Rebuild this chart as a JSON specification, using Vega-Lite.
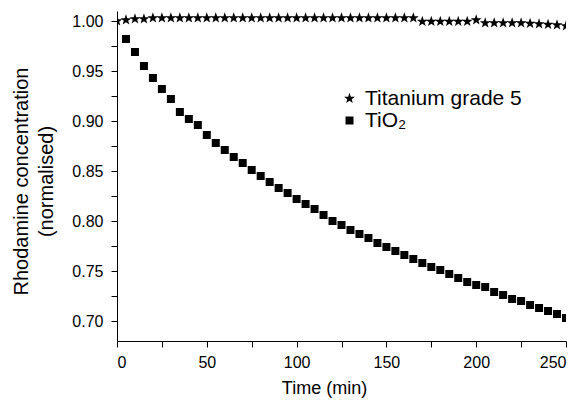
{
  "$schema": "https://vega.github.io/schema/vega-lite/v6.json",
  "width": 449,
  "height": 330,
  "autosize": {"type": "none"},
  "padding": {"left": 117, "top": 11, "right": 13, "bottom": 61},
  "background": "white",
  "config": {
    "view": {"stroke": null},
    "font": "Liberation Sans",
    "axis": {"grid": false, "domainColor": "black", "tickColor": "black", "labelColor": "black", "titleColor": "black", "labelFont": "Liberation Sans", "titleFont": "Liberation Sans", "titleFontWeight": "normal"}
  },
  "data": {
    "values": [
      {"series": "Titanium grade 5", "time": 0, "value": 1.000},
      {"series": "Titanium grade 5", "time": 5, "value": 1.001},
      {"series": "Titanium grade 5", "time": 10, "value": 1.002},
      {"series": "Titanium grade 5", "time": 15, "value": 1.002},
      {"series": "Titanium grade 5", "time": 20, "value": 1.003},
      {"series": "Titanium grade 5", "time": 25, "value": 1.003},
      {"series": "Titanium grade 5", "time": 30, "value": 1.003},
      {"series": "Titanium grade 5", "time": 35, "value": 1.003},
      {"series": "Titanium grade 5", "time": 40, "value": 1.003},
      {"series": "Titanium grade 5", "time": 45, "value": 1.003},
      {"series": "Titanium grade 5", "time": 50, "value": 1.003},
      {"series": "Titanium grade 5", "time": 55, "value": 1.003},
      {"series": "Titanium grade 5", "time": 60, "value": 1.003},
      {"series": "Titanium grade 5", "time": 65, "value": 1.003},
      {"series": "Titanium grade 5", "time": 70, "value": 1.003},
      {"series": "Titanium grade 5", "time": 75, "value": 1.003},
      {"series": "Titanium grade 5", "time": 80, "value": 1.003},
      {"series": "Titanium grade 5", "time": 85, "value": 1.003},
      {"series": "Titanium grade 5", "time": 90, "value": 1.003},
      {"series": "Titanium grade 5", "time": 95, "value": 1.003},
      {"series": "Titanium grade 5", "time": 100, "value": 1.003},
      {"series": "Titanium grade 5", "time": 105, "value": 1.003},
      {"series": "Titanium grade 5", "time": 110, "value": 1.003},
      {"series": "Titanium grade 5", "time": 115, "value": 1.003},
      {"series": "Titanium grade 5", "time": 120, "value": 1.003},
      {"series": "Titanium grade 5", "time": 125, "value": 1.003},
      {"series": "Titanium grade 5", "time": 130, "value": 1.003},
      {"series": "Titanium grade 5", "time": 135, "value": 1.003},
      {"series": "Titanium grade 5", "time": 140, "value": 1.003},
      {"series": "Titanium grade 5", "time": 145, "value": 1.003},
      {"series": "Titanium grade 5", "time": 150, "value": 1.003},
      {"series": "Titanium grade 5", "time": 155, "value": 1.003},
      {"series": "Titanium grade 5", "time": 160, "value": 1.003},
      {"series": "Titanium grade 5", "time": 165, "value": 1.003},
      {"series": "Titanium grade 5", "time": 170, "value": 0.9995},
      {"series": "Titanium grade 5", "time": 175, "value": 0.9995},
      {"series": "Titanium grade 5", "time": 180, "value": 0.9995},
      {"series": "Titanium grade 5", "time": 185, "value": 0.9995},
      {"series": "Titanium grade 5", "time": 190, "value": 0.9995},
      {"series": "Titanium grade 5", "time": 195, "value": 0.9995},
      {"series": "Titanium grade 5", "time": 200, "value": 1.001},
      {"series": "Titanium grade 5", "time": 205, "value": 0.998},
      {"series": "Titanium grade 5", "time": 210, "value": 0.998},
      {"series": "Titanium grade 5", "time": 215, "value": 0.998},
      {"series": "Titanium grade 5", "time": 220, "value": 0.998},
      {"series": "Titanium grade 5", "time": 225, "value": 0.998},
      {"series": "Titanium grade 5", "time": 230, "value": 0.9975},
      {"series": "Titanium grade 5", "time": 235, "value": 0.997},
      {"series": "Titanium grade 5", "time": 240, "value": 0.9965},
      {"series": "Titanium grade 5", "time": 245, "value": 0.996},
      {"series": "Titanium grade 5", "time": 250, "value": 0.995},
      {"series": "TiO₂", "time": 5, "value": 0.982},
      {"series": "TiO₂", "time": 10, "value": 0.969},
      {"series": "TiO₂", "time": 15, "value": 0.955},
      {"series": "TiO₂", "time": 20, "value": 0.943},
      {"series": "TiO₂", "time": 25, "value": 0.932},
      {"series": "TiO₂", "time": 30, "value": 0.922},
      {"series": "TiO₂", "time": 35, "value": 0.909},
      {"series": "TiO₂", "time": 40, "value": 0.902},
      {"series": "TiO₂", "time": 45, "value": 0.896},
      {"series": "TiO₂", "time": 50, "value": 0.886},
      {"series": "TiO₂", "time": 55, "value": 0.878},
      {"series": "TiO₂", "time": 60, "value": 0.871},
      {"series": "TiO₂", "time": 65, "value": 0.864},
      {"series": "TiO₂", "time": 70, "value": 0.858},
      {"series": "TiO₂", "time": 75, "value": 0.851},
      {"series": "TiO₂", "time": 80, "value": 0.845},
      {"series": "TiO₂", "time": 85, "value": 0.839},
      {"series": "TiO₂", "time": 90, "value": 0.833},
      {"series": "TiO₂", "time": 95, "value": 0.828},
      {"series": "TiO₂", "time": 100, "value": 0.822},
      {"series": "TiO₂", "time": 105, "value": 0.817},
      {"series": "TiO₂", "time": 110, "value": 0.812},
      {"series": "TiO₂", "time": 115, "value": 0.806},
      {"series": "TiO₂", "time": 120, "value": 0.800},
      {"series": "TiO₂", "time": 125, "value": 0.796},
      {"series": "TiO₂", "time": 130, "value": 0.791},
      {"series": "TiO₂", "time": 135, "value": 0.787},
      {"series": "TiO₂", "time": 140, "value": 0.783},
      {"series": "TiO₂", "time": 145, "value": 0.778},
      {"series": "TiO₂", "time": 150, "value": 0.774},
      {"series": "TiO₂", "time": 155, "value": 0.770},
      {"series": "TiO₂", "time": 160, "value": 0.766},
      {"series": "TiO₂", "time": 165, "value": 0.762},
      {"series": "TiO₂", "time": 170, "value": 0.758},
      {"series": "TiO₂", "time": 175, "value": 0.754},
      {"series": "TiO₂", "time": 180, "value": 0.751},
      {"series": "TiO₂", "time": 185, "value": 0.747},
      {"series": "TiO₂", "time": 190, "value": 0.743},
      {"series": "TiO₂", "time": 195, "value": 0.739},
      {"series": "TiO₂", "time": 200, "value": 0.736},
      {"series": "TiO₂", "time": 205, "value": 0.734},
      {"series": "TiO₂", "time": 210, "value": 0.729},
      {"series": "TiO₂", "time": 215, "value": 0.726},
      {"series": "TiO₂", "time": 220, "value": 0.722},
      {"series": "TiO₂", "time": 225, "value": 0.720},
      {"series": "TiO₂", "time": 230, "value": 0.716},
      {"series": "TiO₂", "time": 235, "value": 0.713},
      {"series": "TiO₂", "time": 240, "value": 0.710},
      {"series": "TiO₂", "time": 245, "value": 0.707},
      {"series": "TiO₂", "time": 250, "value": 0.703}
    ]
  },
  "mark": {"type": "point", "filled": true, "opacity": 1, "clip": true},
  "encoding": {
    "x": {
      "field": "time", "type": "quantitative",
      "scale": {"domain": [0, 250], "nice": false, "zero": false},
      "axis": {
        "title": "Time (min)",
        "values": [0, 25, 50, 75, 100, 125, 150, 175, 200, 225, 250],
        "labelExpr": "datum.value % 50 == 0 ? datum.label : ''",
        "labelOverlap": false,
        "labelFontSize": 16,
        "titleFontSize": 18,
        "titleX": 207,
        "labelPadding": 7,
        "titlePadding": 9,
        "tickSize": 6,
        "encode": {"ticks": {"update": {"y2": {"signal": "datum.value % 50 == 0 ? 6 : 3"}}}}
      }
    },
    "y": {
      "field": "value", "type": "quantitative",
      "scale": {"domain": [0.68, 1.01], "nice": false, "zero": false},
      "axis": {
        "title": ["Rhodamine concentration", "(normalised)"],
        "values": [0.7, 0.725, 0.75, 0.775, 0.8, 0.825, 0.85, 0.875, 0.9, 0.925, 0.95, 0.975, 1.0],
        "labelExpr": "abs(datum.value*20 - round(datum.value*20)) < 0.001 ? format(datum.value, '.2f') : ''",
        "labelOverlap": false,
        "labelFontSize": 16,
        "titleFontSize": 20,
        "titleLineHeight": 25,
        "titleY": 170,
        "labelPadding": 8,
        "titlePadding": 15,
        "tickSize": 6,
        "encode": {"ticks": {"update": {"x2": {"signal": "abs(datum.value*20 - round(datum.value*20)) < 0.001 ? -6 : -3"}}}}
      }
    },
    "shape": {
      "field": "series", "type": "nominal",
      "scale": {"domain": ["Titanium grade 5", "TiO₂"], "range": ["M0,-1L0.235,-0.324L0.951,-0.309L0.38,0.124L0.588,0.809L0,0.4L-0.588,0.809L-0.38,0.124L-0.951,-0.309L-0.235,-0.324Z", "square"]},
      "legend": {
        "title": null,
        "orient": "none",
        "legendX": 222,
        "legendY": 77,
        "labelFontSize": 21,
        "labelColor": "black",
        "labelOffset": 5,
        "symbolFillColor": "black",
        "symbolStrokeColor": "black",
        "symbolStrokeWidth": 0,
        "rowPadding": 0
      }
    },
    "size": {
      "field": "series", "type": "nominal",
      "scale": {"domain": ["Titanium grade 5", "TiO₂"], "range": [130, 64]}
    },
    "color": {"value": "black"}
  }
}
